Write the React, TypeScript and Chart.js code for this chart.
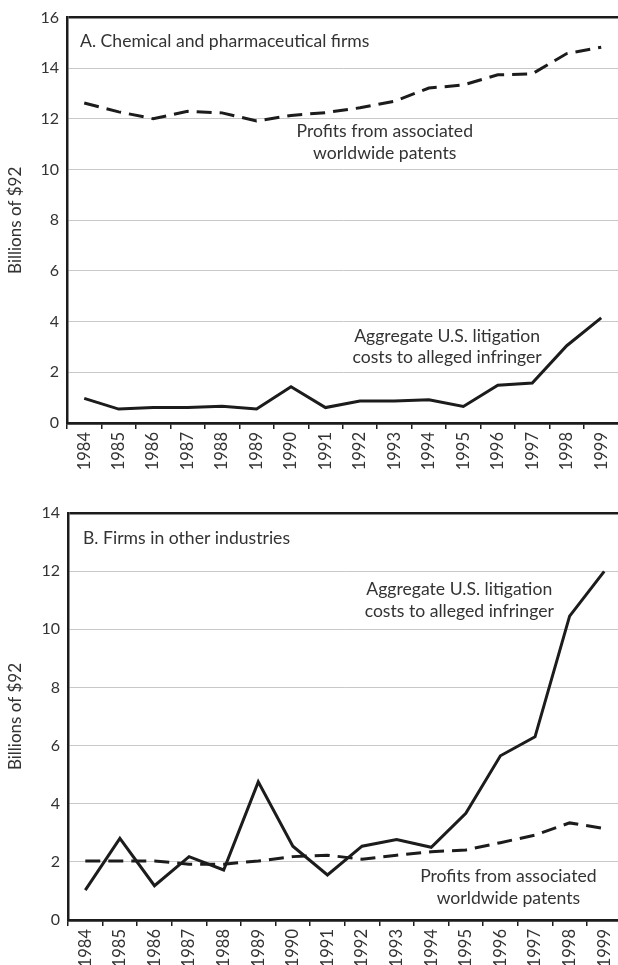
import React, { useEffect, useRef } from "react";
import { Chart, registerables } from "chart.js";

Chart.register(...registerables);

// ---- data ----
const YEARS = ["1984", "1985", "1986", "1987", "1988", "1989", "1990", "1991", "1992", "1993", "1994", "1995", "1996", "1997", "1998", "1999"];

const chemProfits = [12.63, 12.28, 12.01, 12.3, 12.24, 11.92, 12.14, 12.25, 12.44, 12.7, 13.22, 13.34, 13.74, 13.78, 14.58, 14.83];
const chemLitigation = [0.97, 0.55, 0.61, 0.61, 0.66, 0.55, 1.43, 0.61, 0.87, 0.87, 0.92, 0.65, 1.49, 1.58, 3.05, 4.15];

const otherProfits = [2.03, 2.03, 2.03, 1.92, 1.92, 2.03, 2.18, 2.23, 2.09, 2.23, 2.35, 2.41, 2.66, 2.92, 3.34, 3.15];
const otherLitigation = [1.03, 2.81, 1.18, 2.18, 1.72, 4.75, 2.54, 1.55, 2.54, 2.77, 2.5, 3.67, 5.65, 6.3, 10.45, 11.99];

const TOP_Y_MAX = 16;
const BOTTOM_Y_MAX = 14;
const Y_STEP = 2;

const Y_TITLE = "Billions of $92";
const TITLE_A = "A. Chemical and pharmaceutical firms";
const TITLE_B = "B. Firms in other industries";
const PROFITS_LABEL = ["Profits from associated", "worldwide patents"];
const LITIGATION_LABEL = ["Aggregate U.S. litigation", "costs to alleged infringer"];

// ---- styles ----
const FONT = "Lato, 'Open Sans', sans-serif";
const TEXT = "#333333";
const LINE = "#1c1c1c";
const GRID = "#c8c8c8";
const FRAME = "#1c1c1c";

type Note = { lines: string[]; align: CanvasTextAlign; x?: number; y?: number; dx?: number; dy?: number };

function notesPlugin(notes: Note[]) {
  return {
    id: "notes",
    afterDatasetsDraw(chart: any) {
      const { ctx, chartArea, scales } = chart;
      ctx.save();
      ctx.fillStyle = TEXT;
      ctx.font = `17.6px ${FONT}`;
      ctx.textBaseline = "middle";
      for (const n of notes) {
        ctx.textAlign = n.align;
        const x = n.x !== undefined ? scales.x.getPixelForValue(n.x) : chartArea.left + (n.dx || 0);
        const y0 = n.y !== undefined ? scales.y.getPixelForValue(n.y) : chartArea.top + (n.dy || 0);
        n.lines.forEach((t, i) => ctx.fillText(t, x, y0 + i * 21.5));
      }
      ctx.restore();
    },
  };
}

type PanelProps = {
  top: number;
  width: number;
  height: number;
  padTop: number;
  axisWidth: number;
  axisHeight: number;
  yMax: number;
  profits: number[];
  litigation: number[];
  notes: Note[];
};

function Panel(p: PanelProps) {
  const ref = useRef<HTMLCanvasElement>(null);
  useEffect(() => {
    if (!ref.current) return;
    const chart = new Chart(ref.current, {
      type: "line",
      data: {
        labels: YEARS,
        datasets: [
          {
            label: "Profits from associated worldwide patents",
            data: p.profits,
            borderColor: LINE,
            borderWidth: 3,
            borderDash: [15, 8],
            pointRadius: 0,
            tension: 0,
            fill: false,
          },
          {
            label: "Aggregate U.S. litigation costs to alleged infringer",
            data: p.litigation,
            borderColor: LINE,
            borderWidth: 3,
            pointRadius: 0,
            tension: 0,
            fill: false,
          },
        ],
      },
      options: {
        animation: false,
        responsive: false,
        maintainAspectRatio: false,
        layout: { padding: { top: p.padTop, left: 0, right: 0, bottom: 0 } },
        plugins: { legend: { display: false }, tooltip: { enabled: false } },
        scales: {
          x: {
            type: "category",
            offset: true,
            grid: {
              offset: true,
              drawOnChartArea: false,
              drawTicks: true,
              tickLength: 6,
              color: FRAME,
              lineWidth: 1.5,
            },
            border: { display: true, color: FRAME, width: 2.5 },
            ticks: {
              autoSkip: false,
              minRotation: 90,
              maxRotation: 90,
              padding: 3,
              color: TEXT,
              font: { family: FONT, size: 16.5 },
            },
            afterFit: (s: any) => {
              s.height = p.axisHeight;
            },
          },
          y: {
            min: 0,
            max: p.yMax,
            ticks: {
              stepSize: Y_STEP,
              padding: 8,
              color: TEXT,
              font: { family: FONT, size: 16 },
            },
            grid: {
              drawTicks: false,
              color: (c: any) => (c.tick && (c.tick.value === p.yMax || c.tick.value === 0) ? FRAME : GRID),
              lineWidth: (c: any) => (c.tick && (c.tick.value === p.yMax || c.tick.value === 0) ? 2.5 : 1),
            },
            border: { display: true, color: FRAME, width: 2.5 },
            title: {
              display: true,
              text: Y_TITLE,
              color: TEXT,
              font: { family: FONT, size: 17 },
              padding: { top: 5, bottom: 0 },
            },
            afterFit: (s: any) => {
              s.width = p.axisWidth;
            },
          },
        },
      },
      plugins: [notesPlugin(p.notes)],
    });
    return () => chart.destroy();
  }, []);
  return (
    <canvas
      ref={ref}
      width={p.width}
      height={p.height}
      style={{ position: "absolute", left: 0, top: p.top, width: p.width, height: p.height }}
    />
  );
}

export default function App() {
  return (
    <div
      style={{
        position: "absolute",
        left: 0,
        top: 0,
        width: 618,
        height: 965,
        overflow: "hidden",
        background: "#fff",
      }}
    >
      <Panel
        top={0}
        width={624}
        height={470}
        padTop={13}
        axisWidth={67}
        axisHeight={47}
        yMax={TOP_Y_MAX}
        profits={chemProfits}
        litigation={chemLitigation}
        notes={[
          { lines: [TITLE_A], align: "left", dx: 13, dy: 24 },
          { lines: PROFITS_LABEL, align: "center", x: 8.72, y: 11.51 },
          { lines: LITIGATION_LABEL, align: "center", x: 10.53, y: 3.44 },
        ]}
      />
      <Panel
        top={470}
        width={627}
        height={495}
        padTop={43}
        axisWidth={68}
        axisHeight={45}
        yMax={BOTTOM_Y_MAX}
        profits={otherProfits}
        litigation={otherLitigation}
        notes={[
          { lines: [TITLE_B], align: "left", dx: 15, dy: 25 },
          { lines: LITIGATION_LABEL, align: "center", x: 10.81, y: 11.37 },
          { lines: PROFITS_LABEL, align: "center", x: 12.23, y: 1.49 },
        ]}
      />
    </div>
  );
}
